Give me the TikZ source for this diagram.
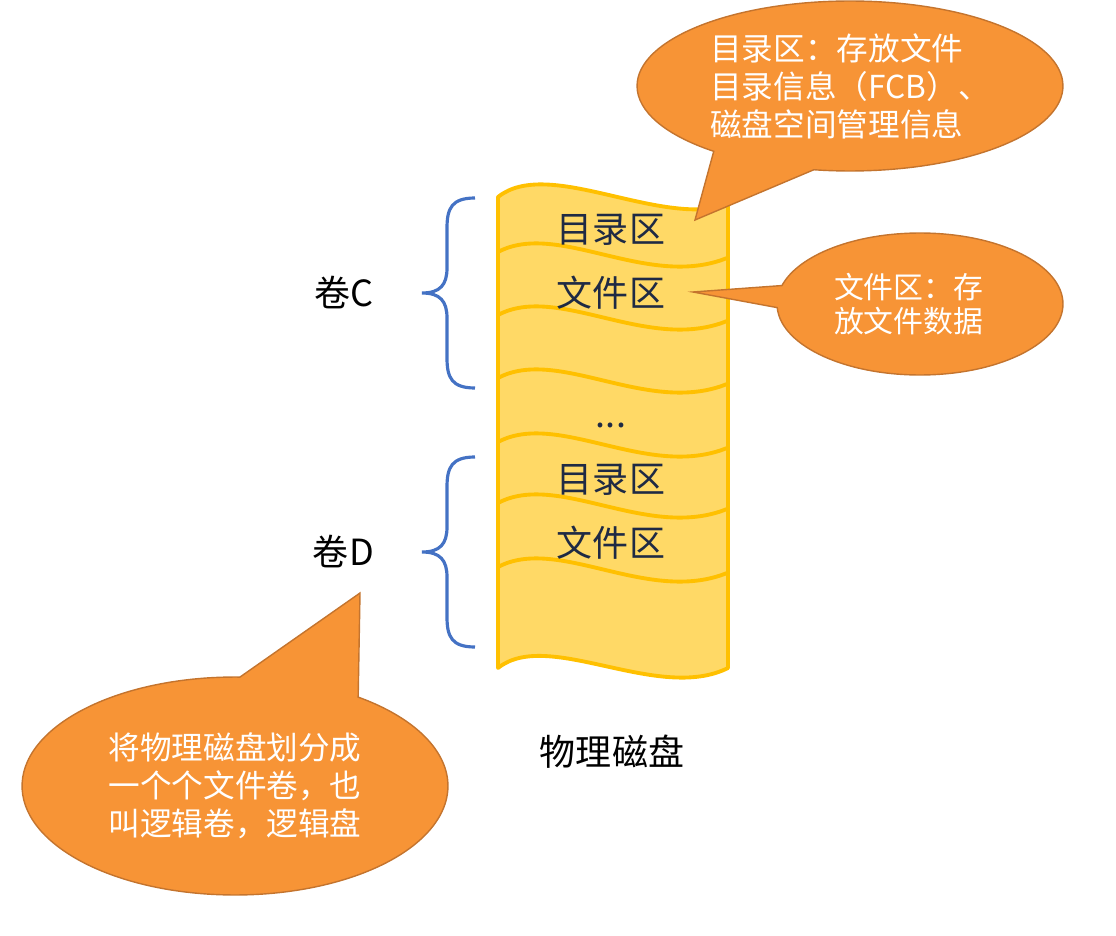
\documentclass[tikz,border=0pt]{standalone}
\usepackage{fontspec}
\setmainfont{Noto Sans CJK SC}
\usetikzlibrary{shapes.callouts}
\definecolor{diskfill}{RGB}{255,217,102}
\definecolor{diskline}{RGB}{255,192,0}
\definecolor{bracecol}{RGB}{68,114,196}
\definecolor{tipfill}{RGB}{247,148,54}
\definecolor{tipline}{RGB}{196,116,46}
\definecolor{zonetext}{RGB}{31,42,68}

\tikzset{
  zone/.style={text=zonetext,font=\fontsize{20.5}{24}\selectfont},
  plain/.style={font=\fontsize{20.5}{24}\selectfont},
  bubble/.style={ellipse callout,fill=tipfill,draw=tipline,line width=0.8pt,inner sep=0pt,
    text=white,align=left,font=\fontsize{18}{21.6}\selectfont},
}

\begin{document}
\begin{tikzpicture}[x=0.02cm,y=-0.02cm]
  \useasboundingbox (0,0) rectangle (1116,936);
  % disk strip
  \filldraw[fill=diskfill,draw=diskline,line width=2.2pt,line join=round]
    (498,197) .. controls (548,157) and (658,227) .. (728,205)
    -- (728,668) .. controls (658,703) and (548,628) .. (498,668) -- cycle;
  \foreach \y in {252,315,378,442,503,567}
    \draw[diskline,line width=2.2pt] (498,\y) .. controls (558,\y-32) and (648,\y+38) .. (727,\y+6);
  \node[zone] (dirC) at (611,230) {目录区};
  \node[zone] (fileC) at (611,293) {文件区};
  \node[zone] (gap) at (611,425) {...};
  \node[zone] (dirD) at (611,480) {目录区};
  \node[zone] (fileD) at (611,543) {文件区};
  \node[plain] (disk) at (612,752) {物理磁盘};

  % volumes
  \foreach \yc/\v in {293/C,552/D} {
    \draw[bracecol,line width=1.8pt] (475,\yc-95) .. controls (452,\yc-95) and (447,\yc-85) .. (447,\yc-65)
      -- (447,\yc-25) .. controls (447,\yc-8) and (440,\yc) .. (422,\yc)
      .. controls (440,\yc) and (447,\yc+8) .. (447,\yc+25)
      -- (447,\yc+65) .. controls (447,\yc+85) and (452,\yc+95) .. (475,\yc+95);
    \node[plain,anchor=east] (vol\v) at (380,\yc) {卷\v};
  }

  % notes
  \coordinate (tipdir) at (695,220);
  \coordinate (tipfile) at (693,292);
  \coordinate (tipvol) at (360,593);
  \node[bubble,minimum width=8.52cm,minimum height=3.4cm,callout absolute pointer={(tipdir)},callout pointer arc=30]
    (noteDir) at (850,86) {目录区：存放文件\\目录信息（FCB）、\\磁盘空间管理信息};
  \node[bubble,minimum width=5.72cm,minimum height=2.84cm,callout absolute pointer={(tipfile)},callout pointer arc=18,
    font=\fontsize{17}{19.8}\selectfont]
    (noteFile) at (920,304) {文件区：存\\放文件数据\hspace*{0.45cm}};
  \node[bubble,minimum width=8.52cm,minimum height=4.36cm,callout absolute pointer={(tipvol)},callout pointer arc=34]
    (noteVol) at (235,786) {将物理磁盘划分成\\一个个文件卷，也\\叫逻辑卷，逻辑盘};
\end{tikzpicture}
\end{document}
